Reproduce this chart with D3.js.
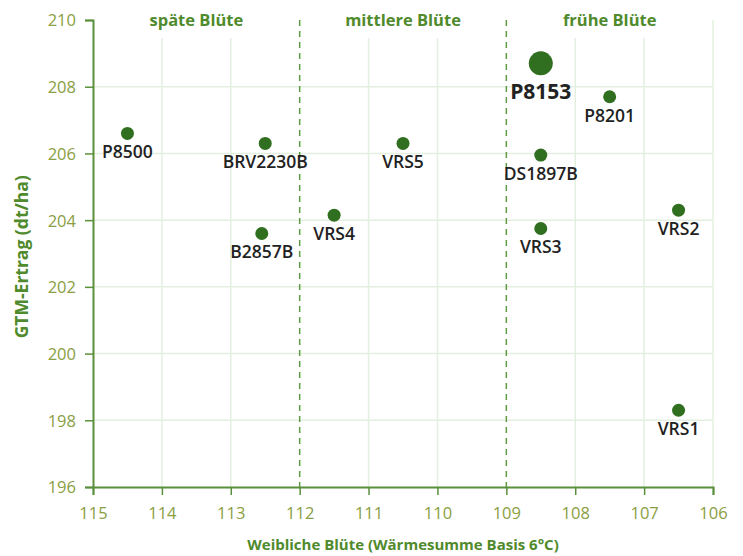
<!DOCTYPE html>
<html>
<head>
<meta charset="utf-8">
<script src="https://cdn.jsdelivr.net/npm/d3@7"></script>
<style>
  body { margin: 0; background: #fff; }
  #chart { width: 743px; height: 556px; }
  text { font-family: "Open Sans", Lato, sans-serif; }
</style>
</head>
<body>
<div id="chart"></div>
<script>
// sorts and values
const names = ["P8500", "BRV2230B", "B2857B", "VRS4", "VRS5", "P8153", "P8201", "DS1897B", "VRS3", "VRS2", "VRS1"];
const bloom = [114.5, 112.5, 112.55, 111.5, 110.5, 108.5, 107.5, 108.5, 108.5, 106.5, 106.5];
const yieldVals = [206.6, 206.3, 203.6, 204.15, 206.3, 208.7, 207.7, 205.95, 203.75, 204.3, 198.3];
const highlight = ["P8153"];

const xTicks = [115, 114, 113, 112, 111, 110, 109, 108, 107, 106];
const yTicks = [196, 198, 200, 202, 204, 206, 208, 210];
const dividers = [112, 109];
const regions = [
    { label: "späte Blüte", from: 115, to: 112 },
    { label: "mittlere Blüte", from: 112, to: 109 },
    { label: "frühe Blüte", from: 109, to: 106 }
];

const margin = { top: 20, right: 30, bottom: 69, left: 93 };
const width = 743 - margin.left - margin.right;
const height = 556 - margin.top - margin.bottom;

const svg = d3.select("#chart")
    .append("svg")
    .attr("width", 743)
    .attr("height", 556)
    .append("g")
    .attr("transform", `translate(${margin.left},${margin.top})`);

// reversed x axis
const x = d3.scaleLinear().domain([115, 106]).range([0, width]);
const y = d3.scaleLinear().domain([196, 210]).range([height, 0]);

const gridColor = "#e3f0df";
const axisColor = "#5a8f3c";
const tickColor = "#8a9e42";
const titleColor = "#4f8a2c";

// grid
svg.append("g").selectAll("line")
    .data(xTicks.filter(d => d !== 115 && dividers.indexOf(d) < 0))
    .enter().append("line")
    .attr("x1", d => x(d)).attr("x2", d => x(d))
    .attr("y1", 0).attr("y2", height)
    .attr("stroke", gridColor).attr("stroke-width", 1.5);

svg.append("g").selectAll("line")
    .data(yTicks.filter(d => d !== 196 && d !== 210))
    .enter().append("line")
    .attr("x1", 0).attr("x2", width)
    .attr("y1", d => y(d)).attr("y2", d => y(d))
    .attr("stroke", gridColor).attr("stroke-width", 1.5);

// region labels, white box behind them hides grid
const regionG = svg.append("g");
regions.forEach(r => {
    const cx = (x(r.from) + x(r.to)) / 2;
    const t = regionG.append("text")
        .attr("x", cx)
        .attr("y", 6)
        .attr("text-anchor", "middle")
        .style("font-size", "16.5px")
        .style("font-weight", "700")
        .style("fill", titleColor)
        .text(r.label);
    const bb = t.node().getBBox();
    regionG.insert("rect", "text")
        .attr("x", bb.x - 4)
        .attr("y", 0)
        .attr("width", bb.width + 8)
        .attr("height", 18)
        .attr("fill", "#fff");
});

// dashed dividers
svg.append("g").selectAll("line")
    .data(dividers)
    .enter().append("line")
    .attr("x1", d => x(d)).attr("x2", d => x(d))
    .attr("y1", 0).attr("y2", height)
    .attr("stroke", "#5f9a45")
    .attr("stroke-width", 1.5)
    .attr("stroke-dasharray", "6,5");

// axes
const xAxis = svg.append("g")
    .attr("transform", `translate(0,${height})`)
    .call(d3.axisBottom(x).tickValues(xTicks).tickFormat(d3.format("d")).tickSizeOuter(0).tickSize(8).tickPadding(12));
const yAxis = svg.append("g")
    .call(d3.axisLeft(y).tickValues(yTicks).tickFormat(d3.format("d")).tickSizeOuter(0).tickSize(8).tickPadding(9));

[xAxis, yAxis].forEach(a => {
    a.select(".domain").attr("stroke", axisColor).attr("stroke-width", 2);
    a.selectAll(".tick line").attr("stroke", axisColor).attr("stroke-width", 1.5);
    a.selectAll(".tick text")
        .style("font-family", "'Open Sans', sans-serif")
        .style("font-size", "16.5px")
        .style("fill", tickColor);
});
yAxis.selectAll(".tick text").attr("dy", "0.36em");

// axis titles
svg.append("text")
    .attr("x", width / 2)
    .attr("y", height + 63)
    .attr("text-anchor", "middle")
    .style("font-size", "15px")
    .style("font-weight", "700")
    .style("fill", titleColor)
    .text("Weibliche Blüte (Wärmesumme Basis 6°C)");

svg.append("text")
    .attr("transform", "rotate(-90)")
    .attr("x", -(y(202.9)))
    .attr("y", -65)
    .attr("text-anchor", "middle")
    .style("font-size", "17.5px")
    .style("font-weight", "700")
    .style("fill", titleColor)
    .text("GTM-Ertrag (dt/ha)");

// points
const data = names.map((n, i) => ({ name: n, x: bloom[i], y: yieldVals[i], big: highlight.indexOf(n) >= 0 }));

svg.append("g").selectAll("circle")
    .data(data)
    .enter().append("circle")
    .attr("cx", d => x(d.x))
    .attr("cy", d => y(d.y))
    .attr("r", d => d.big ? 12 : 6.5)
    .attr("fill", "#2f6f1f");

svg.append("g").selectAll("text")
    .data(data)
    .enter().append("text")
    .attr("x", d => x(d.x))
    .attr("y", d => y(d.y) + (d.big ? 36 : 25))
    .attr("text-anchor", "middle")
    .style("font-size", d => d.big ? "21px" : "17.5px")
    .style("font-weight", d => d.big ? "700" : "600")
    .style("fill", "#222")
    .text(d => d.name);
</script>
</body>
</html>
